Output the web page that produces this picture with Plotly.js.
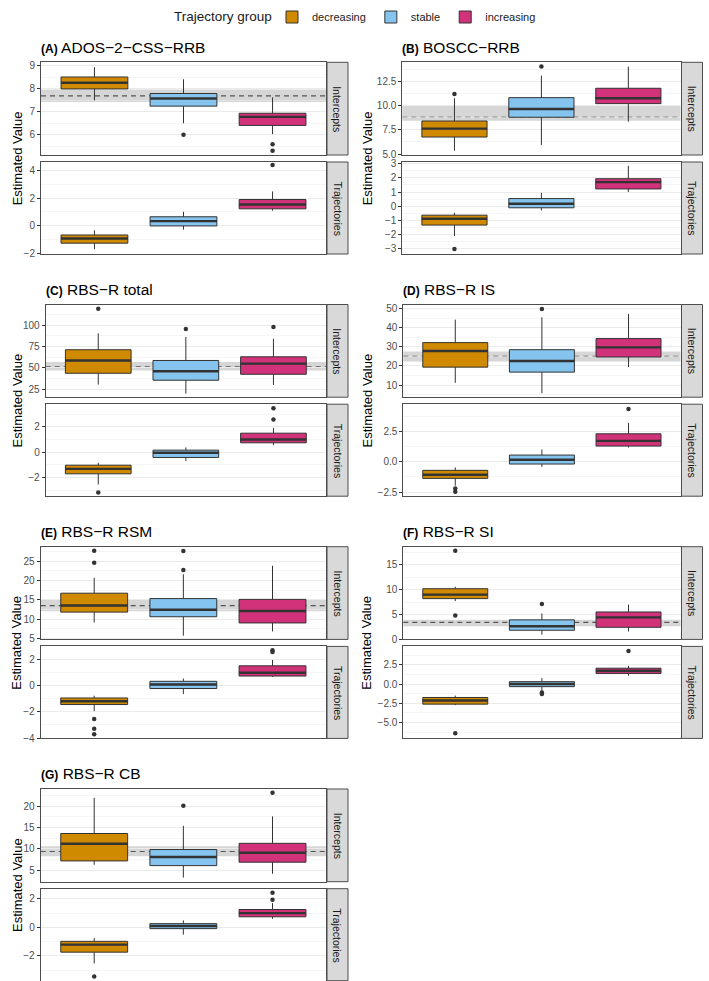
<!DOCTYPE html>
<html><head><meta charset="utf-8">
<script src="https://cdn.plot.ly/plotly-3.0.1.min.js"></script>
<style>html,body{margin:0;padding:0;background:#fff}#chart{width:709px;height:981px}</style>
</head><body><div id="chart"></div>
<script>
// ---------------- DATA ----------------
const groups = ['decreasing', 'stable', 'increasing'];
const panelLetters = ['A', 'B', 'C', 'D', 'E', 'F', 'G'];
const panelNames = ['ADOS\u22122\u2212CSS\u2212RRB', 'BOSCC\u2212RRB', 'RBS\u2212R total', 'RBS\u2212R IS', 'RBS\u2212R RSM', 'RBS\u2212R SI', 'RBS\u2212R CB'];
const facetLabels = ['Intercepts', 'Trajectories'];
const yTitle = 'Estimated Value';
const legendTitle = 'Trajectory group';

// one row per sub-panel: A-Int, A-Traj, B-Int, B-Traj, ... ; values per group (decreasing, stable, increasing)
const lowerWhisker = [
  [7.5, 6.5, 6.03], [-1.72, -0.29, 1.09],
  [5.34, 5.93, 8.35], [-2.1, -0.30, 1.0],
  [30.4, 19.8, 30.0], [-2.55, -0.69, 0.55],
  [11.2, 5.8, 19.4], [-1.97, -0.43, 1.17],
  [9.1, 5.7, 6.8], [-1.95, -0.65, 0.65],
  [7.7, 0.9, 1.55], [-2.75, -0.9, 1.08],
  [6.3, 3.3, 4.2], [-2.53, -0.51, 0.6]
];
const q1 = [
  [8.0, 7.25, 6.41], [-1.28, -0.02, 1.23],
  [6.76, 8.81, 10.22], [-1.33, -0.11, 1.22],
  [43.7, 35.5, 42.5], [-1.71, -0.42, 0.74],
  [19.4, 16.8, 24.7], [-1.37, -0.19, 1.29],
  [11.8, 10.6, 9.0], [-1.45, -0.23, 0.72],
  [8.2, 1.8, 2.4], [-2.62, -0.34, 1.38],
  [7.2, 6.1, 6.9], [-1.74, -0.09, 0.74]
];
const median = [
  [8.27, 7.58, 6.78], [-0.94, 0.33, 1.55],
  [7.63, 9.67, 10.78], [-0.88, 0.17, 1.70],
  [58.6, 46.0, 55.0], [-1.32, -0.05, 1.0],
  [27.8, 22.6, 29.7], [-1.07, 0.16, 1.72],
  [13.5, 12.4, 12.1], [-1.2, 0.08, 0.97],
  [9.0, 2.6, 4.4], [-2.15, 0.0, 1.73],
  [11.2, 8.1, 9.1], [-1.21, 0.09, 1.0]
];
const q3 = [
  [8.52, 7.8, 6.94], [-0.68, 0.65, 1.91],
  [8.42, 10.84, 11.81], [-0.63, 0.54, 1.94],
  [71.3, 58.7, 63.0], [-1.03, 0.16, 1.5],
  [32.2, 28.5, 34.3], [-0.71, 0.55, 2.3],
  [16.7, 15.3, 15.1], [-0.95, 0.32, 1.5],
  [10.2, 3.9, 5.5], [-1.75, 0.31, 2.06],
  [13.6, 9.86, 11.3], [-0.98, 0.26, 1.25]
];
const upperWhisker = [
  [8.95, 8.42, 7.63], [-0.34, 1.01, 2.5],
  [10.78, 13.12, 14.06], [-0.46, 0.94, 2.86],
  [90.6, 86.3, 84.2], [-0.84, 0.37, 1.92],
  [44.2, 45.4, 47.2], [-0.47, 1.01, 3.2],
  [20.7, 21.6, 23.8], [-0.78, 0.53, 1.95],
  [10.6, 5.2, 7.0], [-1.5, 0.77, 2.37],
  [21.95, 15.4, 17.6], [-0.75, 0.49, 1.7]
];
const outliers = [
  [[], [6.0], [5.59, 5.30]], [[], [], [4.43]],
  [[11.22], [14.06], []], [[-3.02], [], []],
  [[119.5], [95.7], [98.0]], [[-3.18], [], [2.58, 3.47]],
  [[], [49.8], []], [[-2.21, -2.48], [], [4.34]],
  [[24.6, 27.7], [22.7, 27.6], []], [[-2.56, -3.29, -3.71], [], [2.55, 2.68]],
  [[17.9, 4.8], [7.1], []], [[-6.4], [-1.1, -1.3], [4.3]],
  [[], [20.1], [23.1]], [[-3.45], [], [1.93, 2.42]]
];
// reference line and grey band (intercept panels only), per panel A..G
const refLine  = [7.7, 8.81, 51.2, 25.0, 13.5, 3.38, 9.4];
const bandLow  = [7.43, 8.45, 47.0, 22.4, 12.0, 2.63, 8.3];
const bandHigh = [7.98, 9.98, 56.8, 27.6, 15.0, 3.93, 10.6];

// ---------------- LAYOUT CONFIG ----------------
const W = 709, H = 981;
const colors = ['#D08A00', '#84C4EE', '#D2327A'];
const panelLeft = [41, 402.3, 45.7, 403.3, 40.7, 403.3, 40.7];
const colRight = [326, 680.5];
const rowTop = [62.3, 304.5, 546.7, 789];
const facetSpan = [[0, 92.7], [99.7, 191.7]];
const yRanges = [
  [5.12, 9.16], [-2.07, 4.65],
  [4.9, 14.5], [-3.37, 3.12],
  [15.6, 124.4], [-3.48, 3.79],
  [3.7, 52.1], [-2.84, 4.74],
  [4.74, 28.73], [-4.03, 2.98],
  [-0.05, 18.7], [-7.08, 4.9],
  [2.34, 24.0], [-3.74, 2.71]
];
const yDtick = [1, 2, 2.5, 1, 25, 2, 10, 2.5, 5, 2, 5, 2.5, 5, 2];
const yFormat = ['', '', '.1f', '', '', '', '', '.1f', '', '', '', '.1f', '', ''];
const boxWidth = 0.75;
const borderColor = '#4D4D4D';
const FONT = 'Liberation Sans, Arial, Helvetica, sans-serif';

const traces = [];
const layout = {
  width: W, height: H,
  margin: {l: 0, r: 0, t: 0, b: 0},
  paper_bgcolor: '#FFFFFF', plot_bgcolor: '#FFFFFF',
  font: {family: FONT, color: '#1A1A1A'},
  showlegend: true,
  legend: {
    orientation: 'h', x: 272 / W, xanchor: 'left', y: 1 - 17 / H, yanchor: 'middle',
    font: {size: 11, color: '#1A1A1A'}, bgcolor: 'rgba(0,0,0,0)', itemwidth: 30, valign: 'middle'
  },
  shapes: [], annotations: [{
    xref: 'paper', yref: 'paper', x: 274 / W, y: 1 - 17 / H, xanchor: 'right', yanchor: 'middle',
    showarrow: false, text: legendTitle, font: {size: 13.5, color: '#1A1A1A', family: FONT}
  }]
};

for (let p = 0; p < panelLetters.length; p++) {
  const col = p % 2, row = Math.floor(p / 2);
  const x0 = panelLeft[p], x1 = colRight[col];
  for (let f = 0; f < 2; f++) {
    const k = p * 2 + f;
    const id = k === 0 ? '' : String(k + 1);
    const top = rowTop[row] + facetSpan[f][0], bot = rowTop[row] + facetSpan[f][1];
    layout['xaxis' + id] = {
      domain: [x0 / W, x1 / W], range: [0.4, 3.6], anchor: 'y' + id,
      showgrid: false, zeroline: false, showticklabels: false, ticks: '',
      showline: true, mirror: true, linecolor: borderColor, linewidth: 1, fixedrange: true
    };
    const dt = yDtick[k];
    layout['yaxis' + id] = {
      domain: [1 - bot / H, 1 - top / H], range: yRanges[k], anchor: 'x' + id,
      tick0: 0, dtick: dt, tickformat: yFormat[k],
      showgrid: true, gridcolor: '#EBEBEB', gridwidth: 1,
      minor: {tick0: 0, dtick: dt / 2, showgrid: true, gridcolor: '#EFEFEF', gridwidth: 0.6, ticks: ''},
      zeroline: false, ticks: 'outside', ticklen: 3, tickwidth: 1, tickcolor: '#333333',
      tickfont: {size: 10, color: '#4D4D4D', family: FONT},
      showline: true, mirror: true, linecolor: borderColor, linewidth: 1, fixedrange: true
    };

    // boxes
    for (let g = 0; g < 3; g++) {
      traces.push({
        type: 'box', x: [g + 1], q1: [q1[k][g]], median: [median[k][g]], q3: [q3[k][g]],
        lowerfence: [lowerWhisker[k][g]], upperfence: [upperWhisker[k][g]],
        xaxis: 'x' + id, yaxis: 'y' + id, name: groups[g], legendgroup: groups[g],
        showlegend: k === 0, fillcolor: colors[g], line: {color: '#333333', width: 1},
        whiskerwidth: 0, width: boxWidth, boxpoints: false, hoverinfo: 'skip'
      });
    }
    // thick median lines
    const mx = [], my = [];
    for (let g = 0; g < 3; g++) {
      mx.push(g + 1 - boxWidth / 2, g + 1 + boxWidth / 2, null);
      my.push(median[k][g], median[k][g], null);
    }
    traces.push({type: 'scatter', mode: 'lines', x: mx, y: my, xaxis: 'x' + id, yaxis: 'y' + id,
      line: {color: '#333333', width: 2.4}, showlegend: false, hoverinfo: 'skip'});
    // outliers
    const ox = [], oy = [];
    for (let g = 0; g < 3; g++) outliers[k][g].forEach(v => { ox.push(g + 1); oy.push(v); });
    traces.push({type: 'scatter', mode: 'markers', x: ox, y: oy, xaxis: 'x' + id, yaxis: 'y' + id,
      marker: {color: '#333333', size: 4.5}, showlegend: false, hoverinfo: 'skip', cliponaxis: false});

    // band + reference line (intercepts)
    if (f === 0) {
      layout.shapes.push({type: 'rect', xref: 'paper', yref: 'y' + id, x0: x0 / W, x1: x1 / W,
        y0: bandLow[p], y1: bandHigh[p], fillcolor: 'rgba(180,180,180,0.55)', line: {width: 0}, layer: 'below'});
      layout.shapes.push({type: 'line', xref: 'paper', yref: 'y' + id, x0: x0 / W, x1: x1 / W,
        y0: refLine[p], y1: refLine[p], line: {color: '#555555', width: 1.2, dash: '5px,4px'}, layer: 'below'});
    }
    // strip
    layout.shapes.push({type: 'rect', xref: 'paper', yref: 'paper',
      x0: (x1 + 1) / W, x1: (x1 + 22) / W, y0: 1 - bot / H, y1: 1 - top / H,
      fillcolor: '#D9D9D9', line: {color: borderColor, width: 1}, layer: 'above'});
    layout.annotations.push({xref: 'paper', yref: 'paper', x: (x1 + 11.5) / W, y: 1 - (top + bot) / 2 / H,
      text: facetLabels[f], textangle: 90, showarrow: false, xanchor: 'center', yanchor: 'middle',
      font: {size: 10.5, color: '#1A1A1A', family: FONT}});
  }
  // panel title
  layout.annotations.push({xref: 'paper', yref: 'paper', x: (x0 - 2) / W, y: 1 - (rowTop[row] - 15.3) / H,
    xanchor: 'left', yanchor: 'middle', showarrow: false,
    text: '<b><span style="font-size:12px">(' + panelLetters[p] + ')</span></b> ' + panelNames[p],
    font: {size: 15.5, color: '#000000', family: FONT}});
  // y title
  layout.annotations.push({xref: 'paper', yref: 'paper', x: (col === 0 ? 17 : 367) / W,
    y: 1 - (rowTop[row] + 96) / H, textangle: -90, showarrow: false, xanchor: 'center', yanchor: 'middle',
    text: yTitle, font: {size: 13, color: '#000000', family: FONT}});
}

Plotly.newPlot('chart', traces, layout, {displayModeBar: false, staticPlot: true});
</script></body></html>
